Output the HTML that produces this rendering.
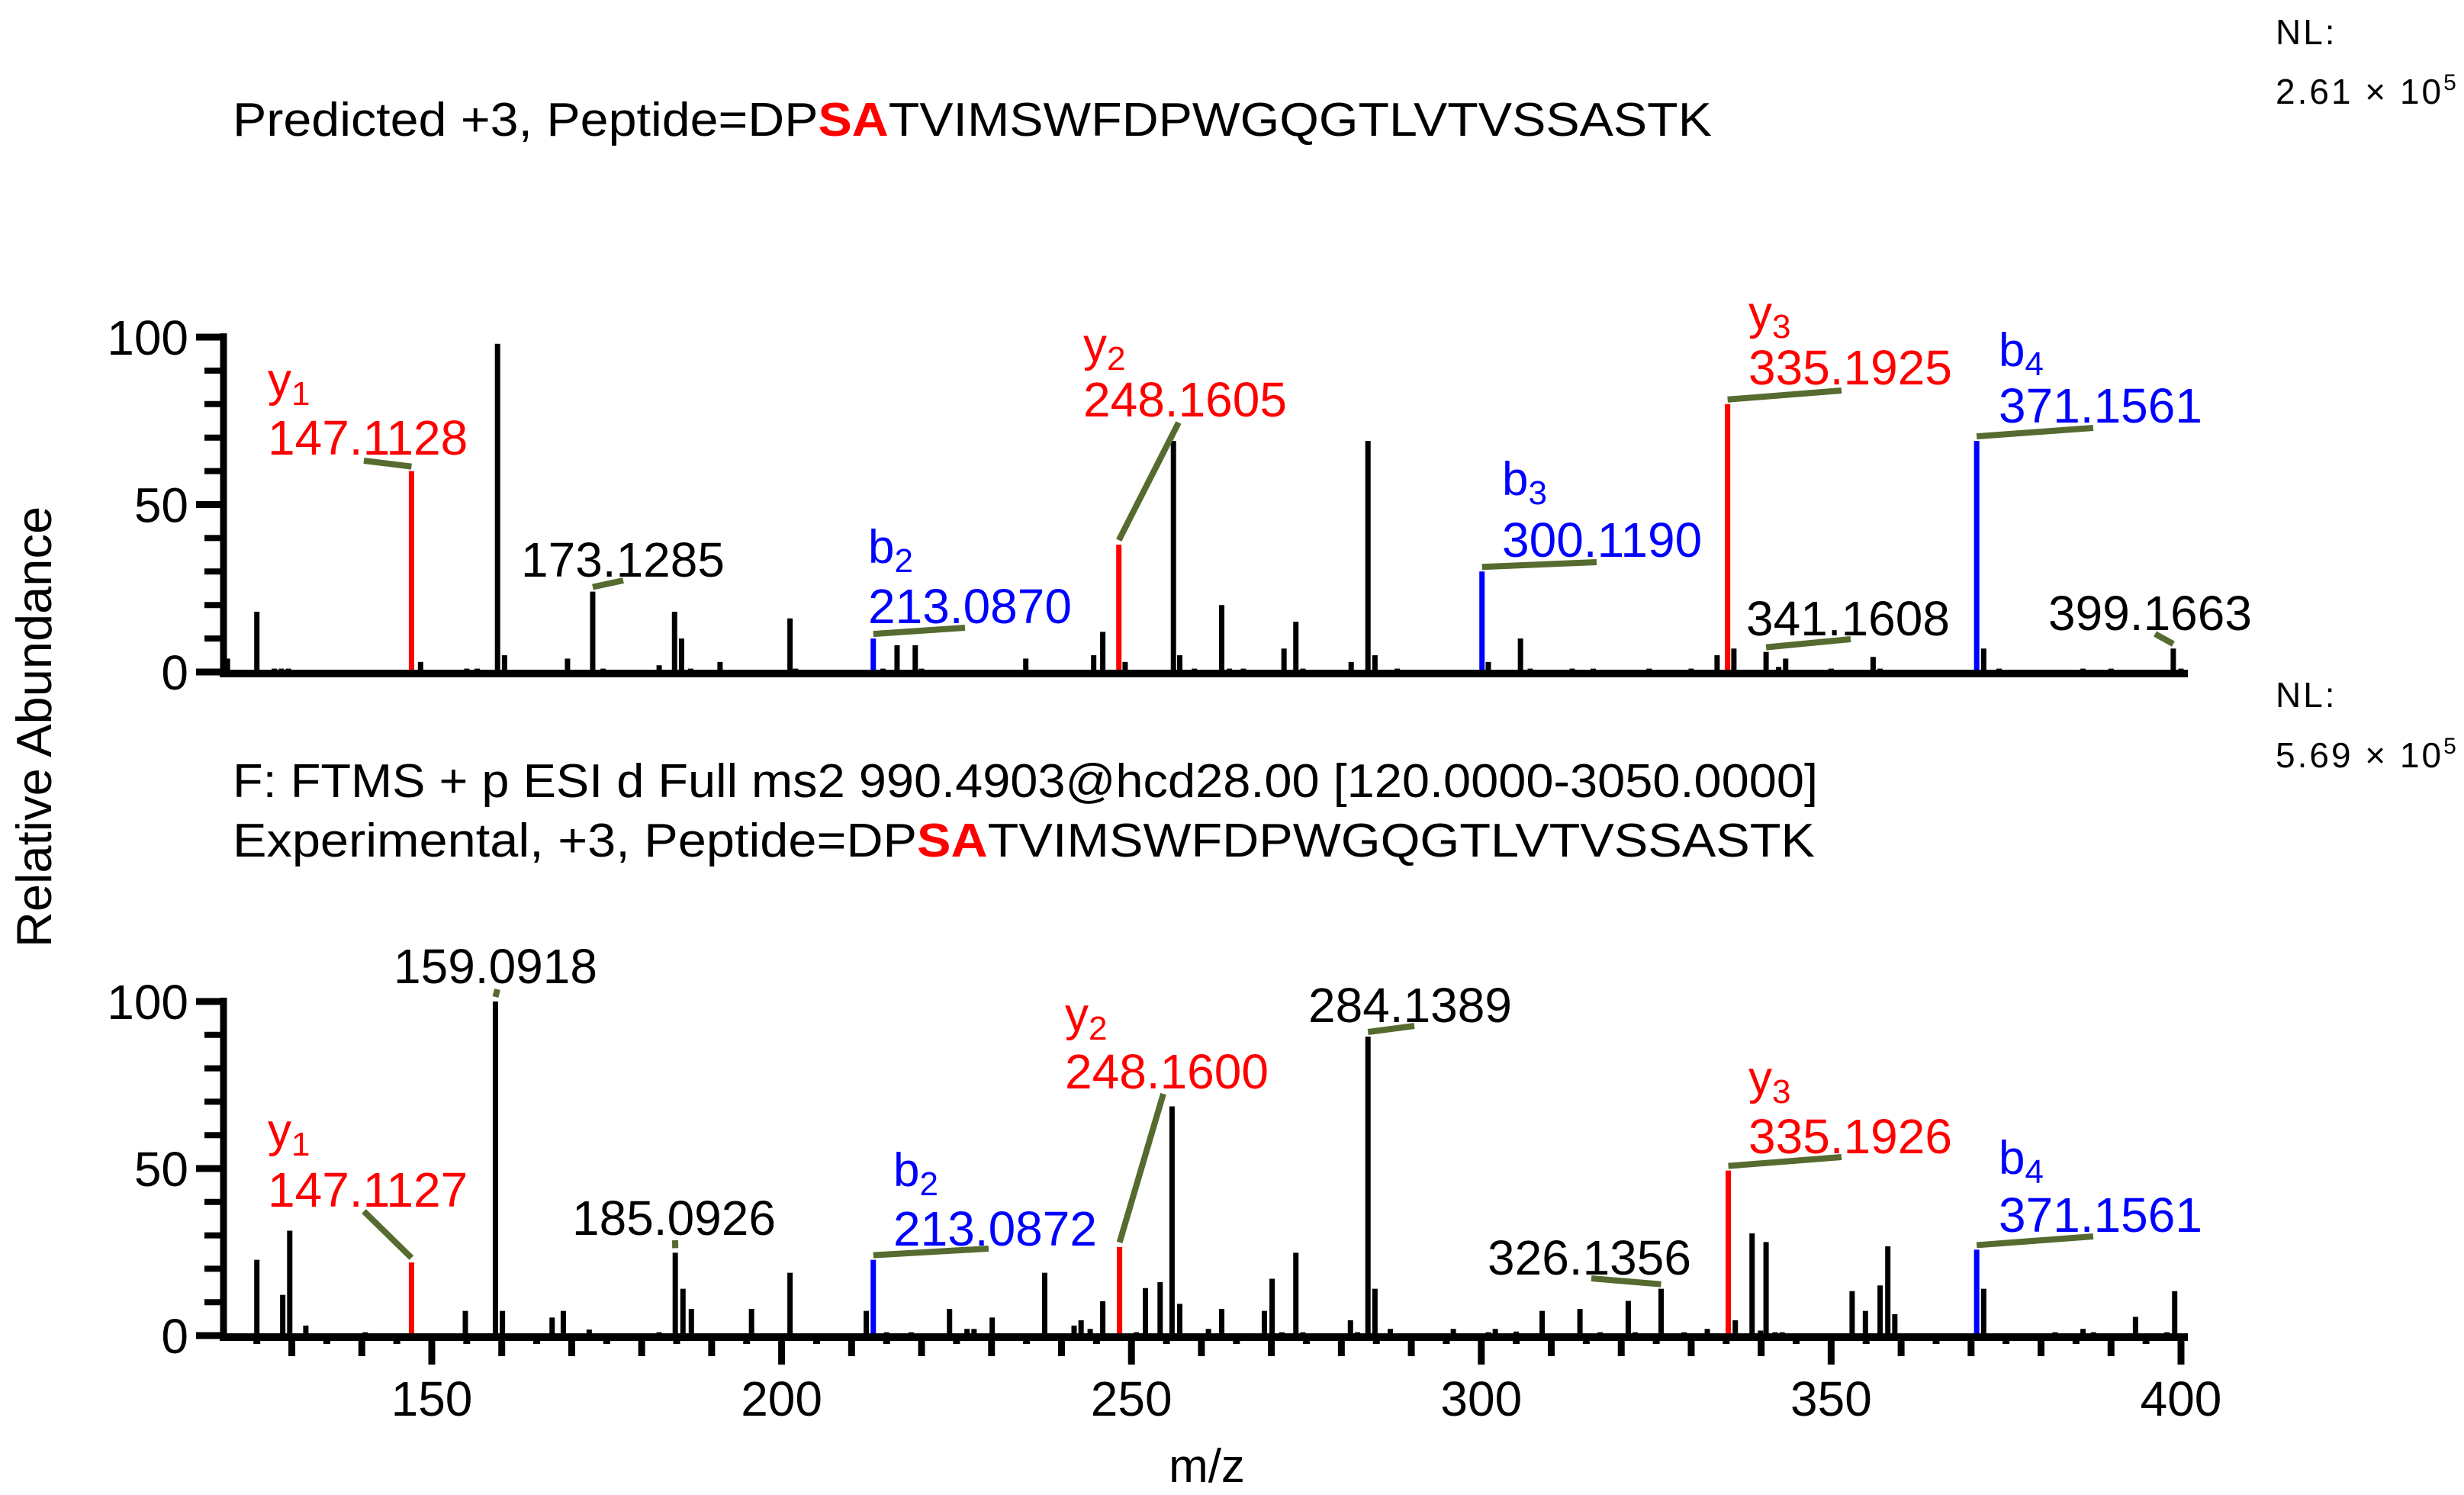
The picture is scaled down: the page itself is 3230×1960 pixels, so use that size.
<!DOCTYPE html>
<html><head><meta charset="utf-8">
<style>
html,body{margin:0;padding:0;background:#fff;}
svg{display:block;}
text{font-family:"Liberation Sans",Arial,sans-serif;}
</style></head>
<body>
<svg id="chart" xmlns="http://www.w3.org/2000/svg" width="3230" height="1960" viewBox="0 0 3230 1960">
<rect x="0" y="0" width="3230" height="1960" fill="#fff"/>
<text x="305" y="178" font-size="62" textLength="1939" lengthAdjust="spacingAndGlyphs">Predicted +3, Peptide=DP<tspan fill="#ff0000" font-weight="bold">SA</tspan>TVIMSWFDPWGQGTLVTVSSASTK</text>
<text x="2983" y="58" font-size="46" letter-spacing="3">NL:</text>
<text x="2983" y="136" font-size="46" letter-spacing="3">2.61 × 10<tspan font-size="30" dy="-18">5</tspan></text>
<text x="2983" y="927" font-size="46" letter-spacing="3">NL:</text>
<text x="2983" y="1006" font-size="46" letter-spacing="3">5.69 × 10<tspan font-size="30" dy="-18">5</tspan></text>
<text x="305" y="1045" font-size="62" textLength="2078" lengthAdjust="spacingAndGlyphs">F: FTMS + p ESI d Full ms2 990.4903@hcd28.00 [120.0000-3050.0000]</text>
<text x="305" y="1123" font-size="62" textLength="2074" lengthAdjust="spacingAndGlyphs">Experimental, +3, Peptide=DP<tspan fill="#ff0000" font-weight="bold">SA</tspan>TVIMSWFDPWGQGTLVTVSSASTK</text>
<text transform="translate(67,953) rotate(-90)" text-anchor="middle" font-size="65">Relative Abundance</text>
<text x="1582" y="1943" text-anchor="middle" font-size="62">m/z</text>
<g id="g"></g>
</svg>
<script>
// ---- data ----
const topMz = [120.8,125.0,127.5,128.5,129.5,147.1,148.4,155,156.5,159.4,160.4,169.4,173.0,174.5,182.5,184.7,185.7,187,191.2,201.2,202,213.1,214.5,216.5,219.1,220,234.9,244.6,245.9,248.2,249.1,256.0,256.9,259,262.9,264,266,271.8,273.5,274.5,281.4,283.8,284.8,288,300.1,301,305.6,307,313,316,324,330,333.7,335.2,336.1,340.7,342.5,343.5,350,356,357,370.8,371.8,374,386,390,398.9,400];
const topInt = [4,18,1,1,1,60,3,1,1,98,5,4,24,1,2,18,10,1,3,16,1,10,1,8,8,1,4,5,12,38,3,69,5,1,20,1,1,7,15,1,3,69,5,1,30,3,10,1,1,1,1,1,5,80,7,6,1.5,4,1,4.5,1,69,7,1,1,1,7,1];
const topKind = ['k','k','k','k','k','y','k','k','k','k','k','k','k','k','k','k','k','k','k','k','k','b','k','k','k','k','k','k','k','y','k','k','k','k','k','k','k','k','k','k','k','k','k','k','b','k','k','k','k','k','k','k','k','y','k','k','k','k','k','k','k','b','k','k','k','k','k','k'];

const botMz = [125.0,128.7,129.7,132,140.5,147.1,154.8,159.1,160.1,167.2,168.8,172.5,182.5,184.8,185.9,187.1,195.7,201.2,212.1,213.1,215,218.5,224.0,226.5,227.5,230.1,237.6,241.8,242.8,244.1,245.9,248.3,250.7,252.0,254.1,255.8,256.9,261,262.9,269.0,270.1,271.5,273.5,274.5,281.3,282.3,283.8,284.8,287,296,301,302,305,308.7,314.1,317,321.0,322,325.7,329,332.3,335.3,336.3,338.7,339.9,340.7,342,343,353.0,354.9,357.0,358.1,359.1,370.8,371.8,382,386,387.5,393.5,398,399.1];
const botInt = [22.7,12.2,31.4,3,1,21.9,7.4,100,7.4,5.4,7.4,1.8,1,24.8,14,8,8,18.8,7.4,22.7,1,1,8,2,2,5.4,18.8,3,4.6,2,10.3,26.5,1,14.2,16,68.6,9.5,2,8,7.4,17,1,24.8,1,4.6,1,89.5,14,2,2,1,2,1.2,7.4,8,1,10.4,1,14,1,2,49.4,4.6,30.6,1.5,28,1,1,13.3,7.4,15,26.7,6.4,25.7,14,1,2,1,5.6,1,13.3];
const botKind = botMz.map(m => m===147.1||m===248.3||m===335.3 ? 'y' : (m===213.1||m===370.8 ? 'b' : 'k'));

const xTicks = [150,200,250,300,350,400];
const yTicks = [0,50,100];

const topAnn = [
 ['y','1','147.1128','#ff0000',351,519,596,477,604,147.1],
 ['','','173.1285','#000',683,null,756,817,761,173.0],
 ['b','2','213.0870','#0000ff',1138,738,817,1265,823,213.1],
 ['y','2','248.1605','#ff0000',1420,473,546,1545,554,248.2],
 ['b','3','300.1190','#0000ff',1969,649,730,2093,737,300.1],
 ['y','3','335.1925','#ff0000',2292,431,504,2414,512,335.2],
 ['b','4','371.1561','#0000ff',2620,480,554,2744,561,370.8],
 ['','','341.1608','#000',2289,null,833,2426,838,340.7],
 ['','','399.1663','#000',2685,null,826,2825,831,398.9]
];
const botAnn = [
 ['','','159.0918','#000',516,null,1289,652,1297,159.1],
 ['y','1','147.1127','#ff0000',351,1503,1582,477,1588,147.1],
 ['','','185.0926','#000',750,null,1619,885,1626,184.8],
 ['b','2','213.0872','#0000ff',1171,1555,1633,1296,1637,213.1],
 ['y','2','248.1600','#ff0000',1396,1351,1427,1525,1434,248.3],
 ['','','284.1389','#000',1715,null,1340,1854,1345,283.8],
 ['y','3','335.1926','#ff0000',2292,1434,1512,2414,1517,335.3],
 ['b','4','371.1561','#0000ff',2620,1539,1615,2744,1621,370.8],
 ['','','326.1356','#000',1950,null,1671,2086,1676,325.7]
];

const NS='http://www.w3.org/2000/svg';
const g=document.getElementById('g');
function xS(m){return 566+(m-150)*9.172;}
function yTop(v){return 881-v*4.39;}
function yBot(v){return 1751-v*4.38;}
const colorOf={k:'#000',y:'#ff0000',b:'#0000ff'};
function mk(tag,attrs){const e=document.createElementNS(NS,tag);for(const k in attrs)e.setAttribute(k,attrs[k]);g.appendChild(e);return e;}

function drawPanel(prefix,mz,ints,kinds,yS,base,ann,withXTicks){
  let e=mk('line',{x1:293,y1:yS(100)-5,x2:293,y2:base+5,stroke:'#000','stroke-width':9});
  
  
  for(let v=0;v<=100;v+=10){
    const major=yTicks.indexOf(v)>=0;
    e=mk('line',{x1:major?257:268,y1:yS(v),x2:293,y2:yS(v),stroke:'#000','stroke-width':major?9:8});
    
    
  }
  yTicks.forEach(v=>{
    const t=mk('text',{x:247,y:yS(v)+23,'text-anchor':'end','font-size':64});
    t.textContent=String(v);
    
    
  });
  mz.forEach((m,i)=>{
    const p=mk('line',{x1:xS(m),y1:base,x2:xS(m),y2:yS(ints[i]),stroke:colorOf[kinds[i]],'stroke-width':7});
    
    
  });
  e=mk('line',{x1:288,y1:base+2,x2:2868,y2:base+2,stroke:'#000','stroke-width':10});
  
  
  if(withXTicks){
    for(let m=125;m<=400;m+=5){
      const len = m%50===0?38:(m%10===0?27:11);
      const t=mk('line',{x1:xS(m),y1:base,x2:xS(m),y2:base+len,stroke:'#000','stroke-width':9});
      
      
    }
    xTicks.forEach(m=>{
      const t=mk('text',{x:xS(m),y:1856,'text-anchor':'middle','font-size':64});
      t.textContent=String(m);
      
      
    });
  }
  ann.forEach(a=>{
    const [ion,sub,txt,col,lx,ionB,mzB,sx,sy,am]=a;
    const idx=mz.indexOf(am);
    const px=xS(am), py=yS(idx>=0?ints[idx]:0)-6;
    const l=mk('line',{x1:sx,y1:sy,x2:px,y2:py,stroke:'#556b2f','stroke-width':8});
    
    
    if(ion){
      const t=mk('text',{x:lx,y:ionB,fill:col,'font-size':62});
      t.innerHTML=ion+'<tspan font-size="44" dy="12">'+sub+'</tspan>';
      
      
    }
    const t2=mk('text',{x:lx,y:mzB,fill:col,'font-size':64});
    t2.textContent=txt;
    
    
  });
}
drawPanel('predicted',topMz,topInt,topKind,yTop,881,topAnn,false);
drawPanel('experimental',botMz,botInt,botKind,yBot,1751,botAnn,true);
</script>
</body></html>
